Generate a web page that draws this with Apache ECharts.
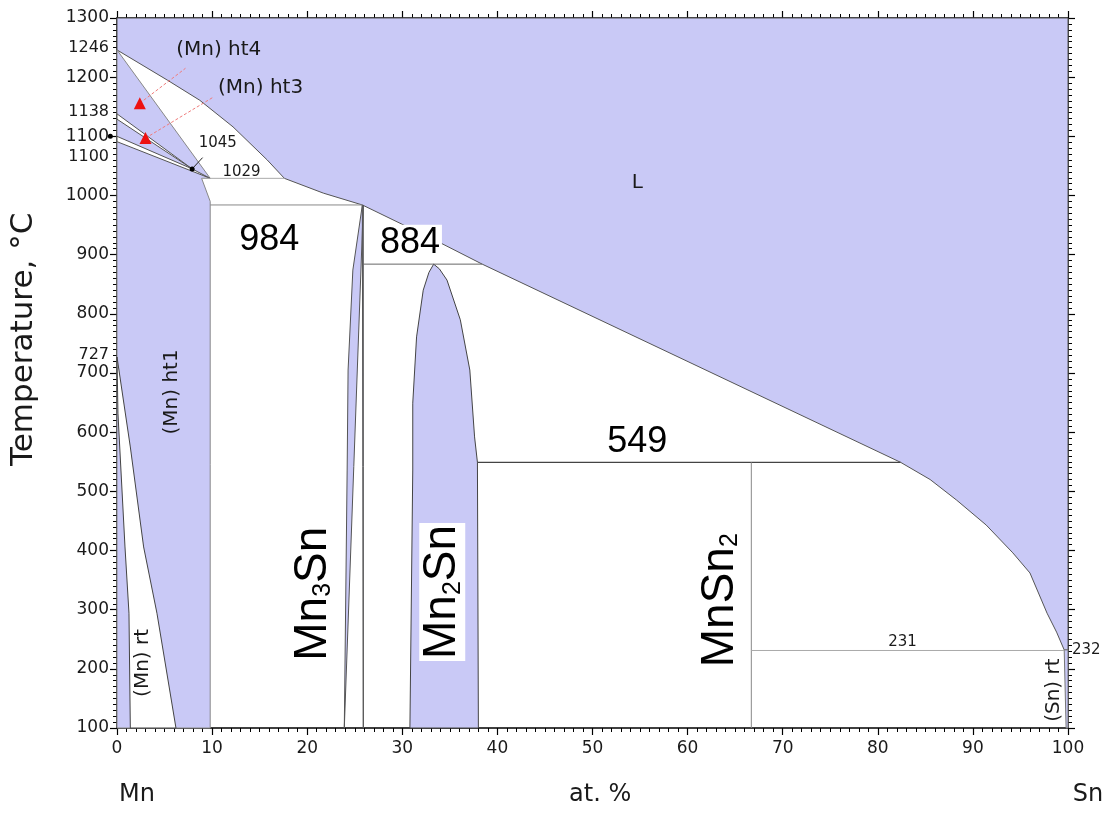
<!DOCTYPE html>
<html><head><meta charset="utf-8">
<script src="https://cdn.jsdelivr.net/npm/echarts@6/dist/echarts.min.js"></script>
<style>html,body{margin:0;padding:0;background:#fff}#c{width:1111px;height:813px}</style>
</head><body><div id="c"></div>
<script>
// ---------------- data (at.% Sn, temperature °C) ----------------
const liqX = [0, 5.3, 8.7, 12.2, 15.8, 17.6, 21.7, 25.8, 34.0, 38.4, 82.4, 85.5, 88.3, 91.4, 94.2, 96.0, 97.8, 98.8, 99.6];
const liqT = [1246, 1195, 1161, 1116, 1060, 1029, 1004, 984, 920, 884, 549, 520, 485, 443, 396, 362, 294, 262, 232];
const mnSolidX = [0, 0, 9.8, 8.9, 9.8, 9.8];
const mnSolidT = [100, 1246, 1029, 1029, 990, 100];
const rtHt1X = [0, 1.4, 2.8, 4.2, 6.2];          // (Mn)ht1 solvus
const rtHt1T = [727, 575, 406, 294, 100];
const rtX = [0, 0.1, 0.84, 1.26, 1.4];            // (Mn)rt solvus
const rtT = [727, 632, 406, 294, 100];
const ht4ht3X = [0, 7.9, 0];  const ht4ht3T = [1138, 1045, 1129];
const ht3ht1X = [0, 7.9, 9.8, 0]; const ht3ht1T = [1100, 1045, 1029, 1091];
const mn3SnLX = [25.8, 24.8, 24.3, 24.2, 23.9];
const mn3SnLT = [984, 874, 705, 536, 100];
const mn3SnRX = [25.9, 25.9];
const mn3SnRT = [100, 984];
const mn2SnLX = [30.8, 31.1, 31.1, 31.5, 32.2, 32.8, 33.3];
const mn2SnLT = [100, 536, 649, 761, 840, 870, 884];
const mn2SnRX = [33.9, 34.7, 36.1, 37.1, 37.6, 37.9, 38.0];
const mn2SnRT = [876, 857, 790, 705, 592, 549, 100];
const snRtX = [99.6, 100, 100, 99.8];
const snRtT = [232, 232, 100, 100];
// isotherms / lines
const iso1029X = [8.9, 17.6];  const iso1029T = [1029, 1029];
const iso984X = [9.8, 25.8];   const iso984T = [984, 984];
const iso884X = [25.9, 38.4];  const iso884T = [884, 884];
const iso549X = [37.9, 82.4];  const iso549T = [549, 549];
const mnSn2X = [66.7, 66.7];   const mnSn2T = [549, 100];
const iso231X = [66.7, 99.6];  const iso231T = [231, 231];
const ptr1045X = [7.9, 9.0];   const ptr1045T = [1045, 1064];
const ptrHt4X = [2.4, 7.2];    const ptrHt4T = [1156, 1215];
const ptrHt3X = [3.0, 10.1];   const ptrHt3T = [1097, 1166];
const triX = [2.4, 3.0];       const triT = [1156, 1097];
const dotX = [7.9, -0.7];      const dotT = [1045, 1100];
const specialTicks = [1246, 1138, 1100, 727];

// ---------------- build ----------------
const zip = (xs, ts) => xs.map((x, i) => [x, ts[i]]);
const LAV = '#c9c9f6';
const regions = [
  { pts: [[0, 1300], ...zip(liqX, liqT), [100, 232], [100, 1300]], fill: LAV, stroke: '#555' },
  { pts: zip(mnSolidX, mnSolidT), fill: LAV, stroke: '#888' },
  { pts: [...zip(rtHt1X, rtHt1T), ...zip(rtX, rtT).reverse()], fill: '#fff', stroke: '#444' },
  { pts: zip(ht4ht3X, ht4ht3T), fill: '#fff', stroke: '#555' },
  { pts: zip(ht3ht1X, ht3ht1T), fill: '#fff', stroke: '#555' },
  { pts: [...zip(mn3SnLX, mn3SnLT).reverse(), ...zip(mn3SnRX, mn3SnRT)], fill: LAV, stroke: '#555' },
  { pts: [...zip(mn2SnLX, mn2SnLT), ...zip(mn2SnRX, mn2SnRT)], fill: LAV, stroke: '#444' },
  { pts: zip(snRtX, snRtT), fill: LAV, stroke: '#777' }
];
const lines = [
  { pts: zip(iso1029X, iso1029T), c: '#aaa', w: 1 },
  { pts: zip(iso984X, iso984T), c: '#888', w: 1 },
  { pts: zip(iso884X, iso884T), c: '#666', w: 1 },
  { pts: zip(iso549X, iso549T), c: '#444', w: 1.2 },
  { pts: zip(mnSn2X, mnSn2T), c: '#888', w: 1 },
  { pts: zip(iso231X, iso231T), c: '#aaa', w: 1 },
  { pts: zip(ptr1045X, ptr1045T), c: '#222', w: 1 },
  { pts: zip(ptrHt4X, ptrHt4T), c: '#f07c7c', w: 1, dash: [3, 2] },
  { pts: zip(ptrHt3X, ptrHt3T), c: '#f07c7c', w: 1, dash: [3, 2] }
];
const DV = 'DejaVu Sans';
const AR = 'Liberation Sans';
const labels = [
  { t: '(Mn) ht4', p: [10.7, 1246], s: 20, f: DV },
  { t: '(Mn) ht3', p: [15.1, 1182], s: 20, f: DV },
  { t: '1045', p: [10.6, 1089], s: 15, f: DV },
  { t: '1029', p: [13.1, 1040], s: 15, f: DV },
  { t: 'L', p: [54.7, 1021], s: 20, f: DV },
  { t: '984', p: [16.0, 925], s: 36, f: AR, c: '#000' },
  { t: '884', p: [30.8, 920], s: 36, f: AR, c: '#000', bg: '#fff' },
  { t: '549', p: [54.7, 583], s: 36, f: AR, c: '#000' },
  { t: '231', p: [82.6, 245], s: 15, f: DV },
  { t: '(Mn) ht1', p: [5.8, 668], s: 20, f: DV, r: 90 },
  { t: '(Mn) rt', p: [2.7, 210], s: 20, f: DV, r: 90 },
  { t: '(Sn) rt', p: [98.5, 164], s: 20, f: DV, r: 90 },
  { t: '{a|Mn}{b|3}{a|Sn}', p: [20.6, 327], s: 46, f: AR, r: 90, c: '#000' },
  { t: '{a|Mn}{b|2}{a|Sn}', p: [34.2, 330], s: 46, f: AR, r: 90, c: '#000', bg: '#fff' },
  { t: '{a|MnSn}{b|2}', p: [63.4, 316], s: 46, f: AR, r: 90, c: '#000' }
];
const rich = {
  a: { fontSize: 46, fontFamily: AR, color: '#000', lineHeight: 46, verticalAlign: 'top' },
  b: { fontSize: 25, fontFamily: AR, color: '#000', lineHeight: 25, padding: [26, 0, 0, 0], verticalAlign: 'bottom' }
};
const labelData = labels.map(l => ({
  value: l.p,
  label: {
    show: true, position: 'inside', formatter: l.t, rotate: l.r || 0,
    fontSize: l.s, fontFamily: l.f, color: l.c || '#1a1a1a',
    backgroundColor: l.bg || 'transparent', padding: l.bg ? [0, 2] : 0, rich
  }
}));
// side labels
const sideData = specialTicks.map((v) => ({
  value: [0, v],
  label: { show: true, position: 'left', distance: 8, formatter: String(v), offset: [0, v === 1100 ? 21 : -2],
           fontSize: 16, fontFamily: DV, color: '#1a1a1a' }
}));
sideData.push({ value: [100, 232], label: { show: true, position: 'right', distance: 4, formatter: '232', fontSize: 15, fontFamily: DV, color: '#1a1a1a' } });
sideData.push({ value: [0, 757], label: { show: true, position: 'inside', offset: [0, -93], rotate: 90, formatter: 'Temperature, °C', fontSize: 31, fontFamily: DV, color: '#1a1a1a' } });
sideData.push({ value: [0, 100], label: { show: true, position: 'inside', offset: [20, 67], formatter: 'Mn', fontSize: 24, fontFamily: DV, color: '#1a1a1a' } });
sideData.push({ value: [50.8, 100], label: { show: true, position: 'inside', offset: [0, 67], formatter: 'at. %', fontSize: 24, fontFamily: DV, color: '#1a1a1a' } });
sideData.push({ value: [100, 100], label: { show: true, position: 'inside', offset: [20, 67], formatter: 'Sn', fontSize: 24, fontFamily: DV, color: '#1a1a1a' } });

const axisCommon = (pos, showLabel) => ({
  type: 'value', position: pos,
  axisLine: { show: true, onZero: false, lineStyle: { color: '#000', width: 1.5 } },
  axisTick: { show: true, inside: false, length: 7, lineStyle: { color: '#000', width: 1.2 } },
  minorTick: { show: true, splitNumber: 10, length: 4, lineStyle: { color: '#000', width: 1 } },
  splitLine: { show: false },
  axisLabel: { show: showLabel, fontSize: 17, fontFamily: DV, color: '#1a1a1a', margin: 8,
               formatter: v => String(v) }
});

const chart = echarts.init(document.getElementById('c'), null, { renderer: 'canvas' });
const xb = axisCommon('bottom', true); xb.axisLabel.margin = 12;
chart.setOption({
  animation: false,
  backgroundColor: '#fff',
  grid: { left: 117, right: 43, top: 18, bottom: 85, containLabel: false, outerBoundsMode: 'none' },
  xAxis: [
    Object.assign(xb, { min: 0, max: 100, interval: 10 }),
    Object.assign(axisCommon('top', false), { min: 0, max: 100, interval: 10 })
  ],
  yAxis: [
    Object.assign(axisCommon('left', true), { min: 100, max: 1300, interval: 100 }),
    Object.assign(axisCommon('right', false), { min: 100, max: 1300, interval: 100 })
  ],
  series: [
    {
      type: 'custom', silent: true, z: 1,
      data: regions.map((r, i) => i),
      renderItem: (params, api) => {
        const r = regions[params.dataIndex];
        return { type: 'polygon', shape: { points: r.pts.map(p => api.coord(p)) },
                 style: { fill: r.fill, stroke: r.stroke, lineWidth: 1 } };
      }
    },
    {
      type: 'custom', silent: true, z: 2,
      data: lines.map((r, i) => i),
      renderItem: (params, api) => {
        const r = lines[params.dataIndex];
        return { type: 'polyline', shape: { points: r.pts.map(p => api.coord(p)) },
                 style: { stroke: r.c, lineWidth: r.w, fill: null, lineDash: r.dash || null } };
      }
    },
    { type: 'scatter', z: 3, symbol: 'triangle', symbolSize: 12, itemStyle: { color: '#ee1111', opacity: 1 }, data: zip(triX, triT), silent: true },
    { type: 'scatter', z: 3, symbol: 'circle', symbolSize: 5, itemStyle: { color: '#000', opacity: 1 }, data: zip(dotX, dotT), silent: true, clip: false },
    { type: 'scatter', z: 4, symbolSize: 0, itemStyle: { opacity: 1 }, data: labelData, silent: true, clip: false },
    { type: 'scatter', z: 4, symbolSize: 0, itemStyle: { opacity: 1 }, data: sideData, silent: true, clip: false }
  ]
});
</script></body></html>
